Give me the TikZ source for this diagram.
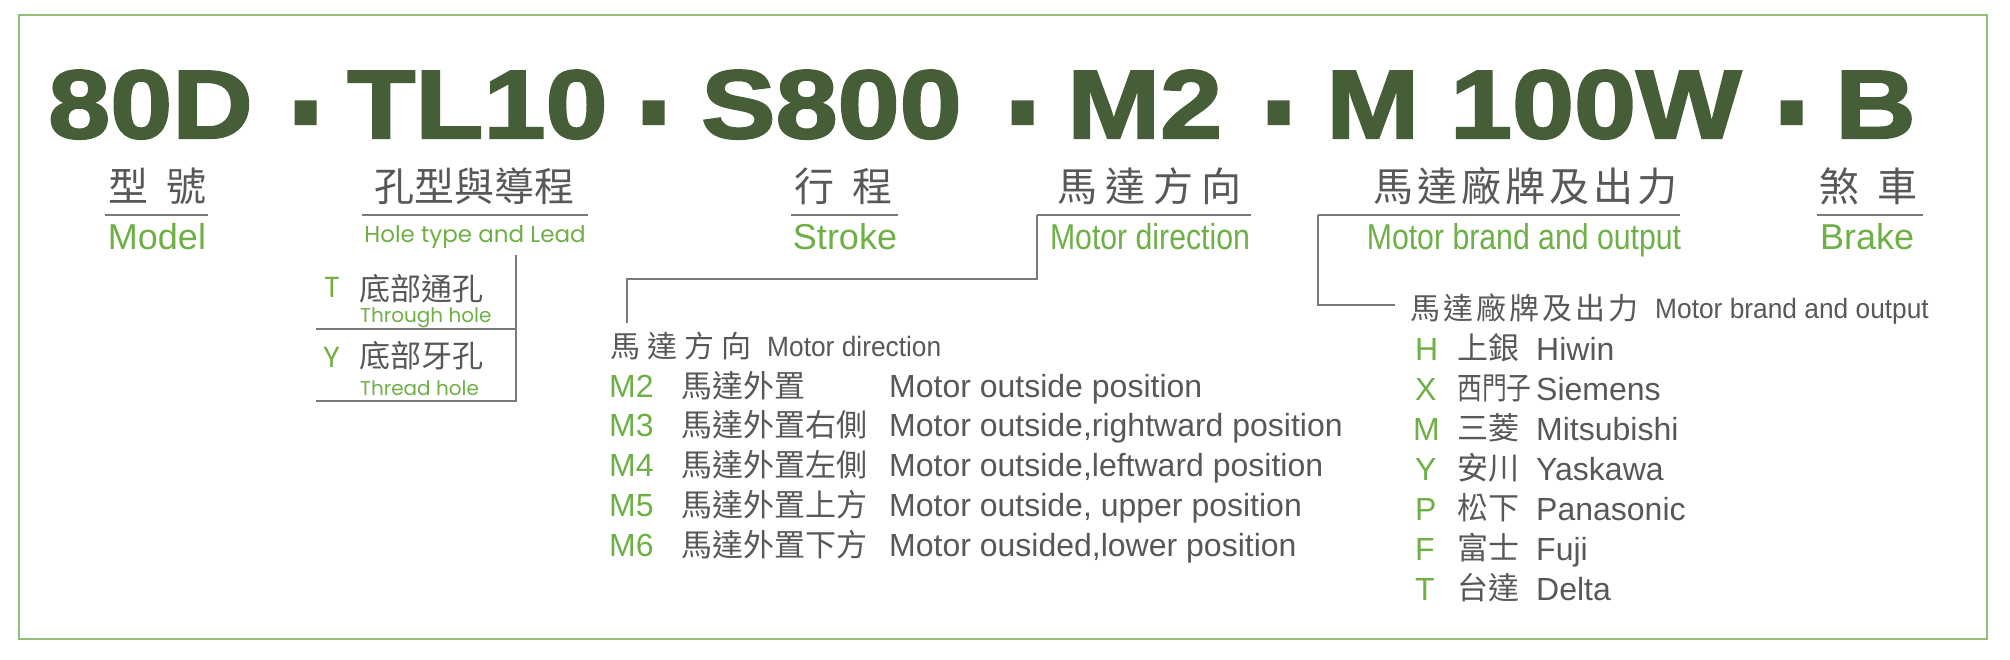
\documentclass[tikz,border=0pt]{standalone}
\usepackage{fontspec}
\setmainfont{Liberation Sans}
\newfontfamily\cjk{Noto Sans CJK TC}
\newfontfamily\titlefont{Liberation Sans}[FakeStretch=1.15, BoldFeatures={FakeBold=2.3}]
\newfontfamily\narrowfont{Liberation Sans}[FakeStretch=0.84]
\newfontfamily\semifont{Liberation Sans}[FakeStretch=0.94]
\newfontfamily\geofont{Poppins}
\definecolor{titlegreen}{HTML}{465E38}
\definecolor{lgreen}{HTML}{6EAF46}
\definecolor{txtgray}{HTML}{585858}
\definecolor{linegray}{HTML}{7A7A7A}
\definecolor{framegreen}{HTML}{92BF78}
\tikzset{
  ttl/.style={anchor=base west, inner sep=0, text=titlegreen, font=\titlefont\bfseries\fontsize{97}{97}\selectfont},
  cjklab/.style={inner sep=0, text=txtgray, font=\cjk\fontsize{40}{40}\selectfont},
  englab/.style={anchor=base, inner sep=0, text=lgreen, font=\fontsize{36}{36}\selectfont},
  narrowlab/.style={anchor=base, inner sep=0, text=lgreen, font=\narrowfont\fontsize{36}{36}\selectfont},
  geolab/.style={anchor=base, inner sep=0, text=lgreen, font=\geofont\fontsize{23}{23}\selectfont},
  uline/.style={draw=linegray, line width=1.4pt},
  conn/.style={draw=linegray, line width=1.4pt},
  holecode/.style={anchor=base west, inner sep=0, text=lgreen, font=\geofont\fontsize{29}{29}\selectfont},
  holecjk/.style={anchor=west, inner sep=0, text=txtgray, font=\cjk\fontsize{31}{31}\selectfont},
  holeeng/.style={anchor=base west, inner sep=0, text=lgreen, font=\geofont\fontsize{20}{20}\selectfont},
  hdrcjk/.style={anchor=west, inner sep=0, text=txtgray, font=\cjk\fontsize{30}{30}\selectfont},
  hdreng/.style={anchor=base west, inner sep=0, text=txtgray, font=\semifont\fontsize{28}{28}\selectfont},
  lcode/.style={anchor=base west, inner sep=0, text=lgreen, font=\fontsize{32}{32}\selectfont},
  lcjk/.style={anchor=west, inner sep=0, text=txtgray, font=\cjk\fontsize{31}{31}\selectfont},
  leng/.style={anchor=base west, inner sep=0, text=txtgray, font=\fontsize{32}{32}\selectfont}
}
\newcommand{\dashglyph}{\raisebox{-20pt}{\scalebox{0.72}[1.8]{-}}}
\begin{document}
\begin{tikzpicture}[x=1pt,y=-1pt]
\useasboundingbox (0,0) rectangle (2010,660);
\draw[draw=framegreen, line width=2pt] (19,15) rectangle (1987,639);

% title
\node[ttl] (p1) at (48,138) {80D};
\node[ttl] (d1) at (292,138) {\dashglyph};
\node[ttl] (p2) at (347,138) {TL10};
\node[ttl] (d2) at (640,138) {\dashglyph};
\node[ttl] (p3) at (701,138) {S800};
\node[ttl] (d3) at (1009,138) {\dashglyph};
\node[ttl] (p4) at (1067,138) {M2};
\node[ttl] (d4) at (1265,138) {\dashglyph};
\node[ttl] (p5) at (1326,138) {M 100W};
\node[ttl] (d5) at (1778,138) {\dashglyph};
\node[ttl] (p6) at (1835,138) {B};

% chinese labels
\node[cjklab] (c1) at (157,186) {型\kern18pt 號};
\node[cjklab] (c2) at (474,186) {孔型與導程};
\node[cjklab] (c3) at (843,186) {行\kern18pt 程};
\node[cjklab] (c4) at (1149,186) {馬\kern8pt 達\kern8pt 方\kern8pt 向};
\node[cjklab] (c5) at (1525,186) {馬\kern4pt 達\kern4pt 廠\kern4pt 牌\kern4pt 及\kern4pt 出\kern4pt 力};
\node[cjklab] (c6) at (1868,186) {煞\kern18pt 車};

% underlines
\coordinate (u1a) at (105,215); \coordinate (u1b) at (208,215);
\coordinate (u2a) at (362,215); \coordinate (u2b) at (588,215);
\coordinate (u3a) at (791,215); \coordinate (u3b) at (898,215);
\coordinate (u4a) at (1037,215); \coordinate (u4b) at (1251,215);
\coordinate (u5a) at (1318,215); \coordinate (u5b) at (1680,215);
\coordinate (u6a) at (1817,215); \coordinate (u6b) at (1923,215);
\draw[uline] (u1a) -- (u1b);
\draw[uline] (u2a) -- (u2b);
\draw[uline] (u3a) -- (u3b);
\draw[uline] (u4a) -- (u4b);
\draw[uline] (u5a) -- (u5b);
\draw[uline] (u6a) -- (u6b);

% english labels
\node[englab] (e1) at (157,250) {Model};
\node[geolab] (e2) at (475,243) {Hole type and Lead};
\node[englab] (e3) at (845,250) {Stroke};
\node[narrowlab] (e4) at (1150,250) {Motor direction};
\node[narrowlab] (e5) at (1524,250) {Motor brand and output};
\node[englab] (e6) at (1867,250) {Brake};

% hole type section
\coordinate (hv1) at (516,255);
\coordinate (hv2) at (516,401);
\coordinate (hm) at (316,329);
\coordinate (hb) at (316,401);
\draw[conn] (hv1) -- (hv2) -- (hb);
\draw[conn] (hm) -- (hm -| hv1);
\node[holecode] (ht) at (324,298) {T};
\node[holecjk] (htc) at (359,289) {底部通孔};
\node[holeeng] (hte) at (360,323) {Through hole};
\node[holecode] (hy) at (323,367) {Y};
\node[holecjk] (hyc) at (359,356) {底部牙孔};
\node[holeeng] (hye) at (360,395) {Thread hole};

% motor direction section
\coordinate (mdc) at (1037,279);
\coordinate (mdl) at (627,279);
\coordinate (mde) at (627,323);
\draw[conn] (u4a) -- (mdc) -- (mdl) -- (mde);
\node[hdrcjk] (mdh) at (610,346) {馬\kern7pt 達\kern7pt 方\kern7pt 向};
\node[hdreng] (mdhe) at (767,356) {Motor direction};

\node[lcode] (m2) at (609,397) {M2};
\node[lcjk] (m2c) at (681,386) {馬達外置};
\node[leng] (m2e) at (889,397) {Motor outside position};
\node[lcode] (m3) at (609,436) {M3};
\node[lcjk] (m3c) at (681,425) {馬達外置右側};
\node[leng] (m3e) at (889,436) {Motor outside,rightward position};
\node[lcode] (m4) at (609,476) {M4};
\node[lcjk] (m4c) at (681,465) {馬達外置左側};
\node[leng] (m4e) at (889,476) {Motor outside,leftward position};
\node[lcode] (m5) at (609,516) {M5};
\node[lcjk] (m5c) at (681,505) {馬達外置上方};
\node[leng] (m5e) at (889,516) {Motor outside, upper position};
\node[lcode] (m6) at (609,556) {M6};
\node[lcjk] (m6c) at (681,545) {馬達外置下方};
\node[leng] (m6e) at (889,556) {Motor ousided,lower position};

% motor brand section
\coordinate (mbc) at (1318,305);
\coordinate (mbe) at (1395,305);
\draw[conn] (u5a) -- (mbc) -- (mbe);
\node[hdrcjk] (mbh) at (1410,308) {馬\kern3pt 達\kern3pt 廠\kern3pt 牌\kern3pt 及\kern3pt 出\kern3pt 力};
\node[hdreng] (mbhe) at (1655,318) {Motor brand and output};

\node[lcode] (bh) at (1415,360) {H};
\node[lcjk] (bhc) at (1457,348) {上銀};
\node[leng] (bhe) at (1536,360) {Hiwin};
\node[lcode] (bx) at (1415,400) {X};
\node[lcjk] (bxc) at (1457,388) {\scalebox{0.8}[1]{西門子}};
\node[leng] (bxe) at (1536,400) {Siemens};
\node[lcode] (bm) at (1413,440) {M};
\node[lcjk] (bmc) at (1457,428) {三菱};
\node[leng] (bme) at (1536,440) {Mitsubishi};
\node[lcode] (by) at (1415,480) {Y};
\node[lcjk] (byc) at (1457,468) {安川};
\node[leng] (bye) at (1536,480) {Yaskawa};
\node[lcode] (bp) at (1415,520) {P};
\node[lcjk] (bpc) at (1457,508) {松下};
\node[leng] (bpe) at (1536,520) {Panasonic};
\node[lcode] (bf) at (1415,560) {F};
\node[lcjk] (bfc) at (1457,548) {富士};
\node[leng] (bfe) at (1536,560) {Fuji};
\node[lcode] (bt) at (1415,600) {T};
\node[lcjk] (btc) at (1457,588) {台達};
\node[leng] (bte) at (1536,600) {Delta};
\end{tikzpicture}
\end{document}
